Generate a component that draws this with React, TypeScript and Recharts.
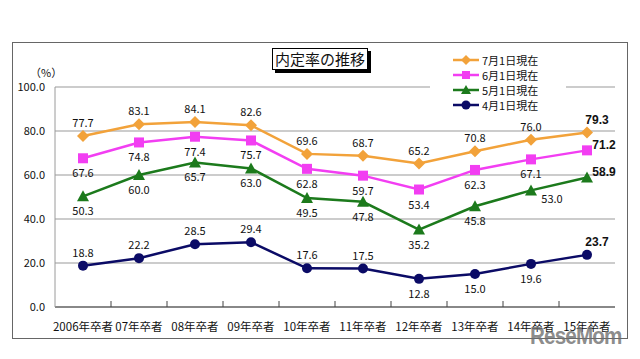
import { LineChart, Line, XAxis, YAxis, CartesianGrid, LabelList } from 'recharts';

const categories = ['2006年卒者', '07年卒者', '08年卒者', '09年卒者', '10年卒者', '11年卒者', '12年卒者', '13年卒者', '14年卒者', '15年卒者'];
const july = [77.7, 83.1, 84.1, 82.6, 69.6, 68.7, 65.2, 70.8, 76.0, 79.3];
const june = [67.6, 74.8, 77.4, 75.7, 62.8, 59.7, 53.4, 62.3, 67.1, 71.2];
const may = [50.3, 60.0, 65.7, 63.0, 49.5, 47.8, 35.2, 45.8, 53.0, 58.9];
const april = [18.8, 22.2, 28.5, 29.4, 17.6, 17.5, 12.8, 15.0, 19.6, 23.7];
const yTicks = [0, 20, 40, 60, 80, 100];

// where each value label sits relative to its point
const julyPlace = ['top', 'top', 'top', 'top', 'top', 'top', 'top', 'top', 'top', 'topRight'];
const junePlace = ['bottom', 'bottom', 'bottom', 'bottom', 'bottom', 'bottom', 'bottom', 'bottom', 'bottom', 'right'];
const mayPlace = ['bottom', 'bottom', 'bottom', 'bottom', 'bottom', 'bottom', 'bottom', 'bottom', 'bottomRight', 'right'];
const aprilPlace = ['top', 'top', 'top', 'top', 'top', 'top', 'bottom', 'bottom', 'bottom', 'topRight'];

const FONT = '"Noto Sans CJK JP", "Noto Sans", sans-serif';

const C_JUL = '#F2A23A';
const C_JUN = '#F23EF2';
const C_MAY = '#1C7A1C';
const C_APR = '#0B0B66';

const data = categories.map((c, i) => ({
  name: c,
  jul: july[i],
  jun: june[i],
  may: may[i],
  apr: april[i],
}));

const OFFSETS: Record<string, [number, number]> = {
  top: [0, -9],
  bottom: [0, 19],
  topRight: [10, -9],
  right: [17, -1],
  bottomRight: [21, 13],
};

function makeLabel(places: string[]) {
  return (props: any) => {
    const { x, y, value, index } = props;
    const p = places[index] || 'top';
    const [dx, dy] = OFFSETS[p];
    const last = index === places.length - 1;
    return (
      <text
        x={x + dx}
        y={y + dy}
        textAnchor="middle"
        fontSize={last ? 12 : 11}
        fontWeight={last ? 700 : 400}
        fontFamily={last ? '"Liberation Sans", sans-serif' : FONT}
        fill="#111"
      >
        {Number(value).toFixed(1)}
      </text>
    );
  };
}

const Diamond = (color: string) => (props: any) => {
  const { cx, cy } = props;
  if (cx == null || cy == null) return null;
  const r = 6;
  return <polygon points={`${cx},${cy - r} ${cx + r},${cy} ${cx},${cy + r} ${cx - r},${cy}`} fill={color} />;
};
const Square = (color: string) => (props: any) => {
  const { cx, cy } = props;
  if (cx == null || cy == null) return null;
  return <rect x={cx - 5} y={cy - 5} width={10} height={10} fill={color} />;
};
const Triangle = (color: string) => (props: any) => {
  const { cx, cy } = props;
  if (cx == null || cy == null) return null;
  return <polygon points={`${cx},${cy - 6} ${cx + 6},${cy + 5} ${cx - 6},${cy + 5}`} fill={color} />;
};
const Circle = (color: string) => (props: any) => {
  const { cx, cy } = props;
  if (cx == null || cy == null) return null;
  return <circle cx={cx} cy={cy} r={5} fill={color} />;
};

const TICK_MARGIN = 10;

function CategoryTick(props: any) {
  const { x, y, payload, index, width, visibleTicksCount } = props;
  const n = visibleTicksCount || categories.length;
  const bw = (width || 560) / n;
  const axisY = y - 6 - TICK_MARGIN;
  return (
    <g>
      {index < n - 1 && (
        <line x1={x + bw / 2} x2={x + bw / 2} y1={axisY} y2={axisY - 6} stroke="#444" />
      )}
      <text x={x} y={y} dy="0.71em" textAnchor="middle" fontSize={11.5} fontFamily={FONT} fill="#111">
        {payload.value}
      </text>
    </g>
  );
}

const legendItems = [
  { label: '7月1日現在', color: C_JUL, shape: 'diamond' },
  { label: '6月1日現在', color: C_JUN, shape: 'square' },
  { label: '5月1日現在', color: C_MAY, shape: 'triangle' },
  { label: '4月1日現在', color: C_APR, shape: 'circle' },
];

function LegendMarker({ color, shape }: { color: string; shape: string }) {
  return (
    <svg width={26} height={12} style={{ display: 'block' }}>
      <line x1={0} y1={6} x2={26} y2={6} stroke={color} strokeWidth={2.5} />
      {shape === 'diamond' && <polygon points="13,1 18,6 13,11 8,6" fill={color} />}
      {shape === 'square' && <rect x={9} y={2} width={8} height={8} fill={color} />}
      {shape === 'triangle' && <polygon points="13,1 18,10 8,10" fill={color} />}
      {shape === 'circle' && <circle cx={13} cy={6} r={4.5} fill={color} />}
    </svg>
  );
}

export default function App() {
  return (
    <div style={{ position: 'absolute', left: 0, top: 0, width: 640, height: 359, background: '#fff', fontFamily: FONT }}>
      <div
        style={{
          position: 'absolute',
          left: 12,
          top: 42,
          width: 614,
          height: 295,
          border: '1px solid #666',
        }}
      />
      <div style={{ position: 'absolute', left: 0, top: 0 }}>
        <LineChart width={640} height={359} data={data} margin={{ top: 87, right: 25, bottom: 22, left: 10 }}>
          <CartesianGrid vertical={false} stroke="#9a9a9a" strokeWidth={1.2} />
          <XAxis
            dataKey="name"
            height={30}
            padding={{ left: 28, right: 28 }}
            axisLine={{ stroke: '#444' }}
            tickLine={false}
            tickMargin={TICK_MARGIN}
            interval={0}
            tick={<CategoryTick />}
          />
          <YAxis
            domain={[0, 100]}
            ticks={yTicks}
            width={45}
            axisLine={{ stroke: '#9a9a9a' }}
            tickLine={false}
            tickMargin={4}
            tickFormatter={(v: number) => v.toFixed(1)}
            tick={{ fontSize: 11, fill: '#111', fontFamily: FONT }}
          />
          <YAxis yAxisId="r" orientation="right" width={0} domain={[0, 100]} tick={false} tickLine={false} axisLine={{ stroke: '#444' }} />
          <Line dataKey="apr" stroke={C_APR} strokeWidth={2.5} dot={Circle(C_APR)} isAnimationActive={false}>
            <LabelList dataKey="apr" content={makeLabel(aprilPlace)} />
          </Line>
          <Line dataKey="may" stroke={C_MAY} strokeWidth={2.5} dot={Triangle(C_MAY)} isAnimationActive={false}>
            <LabelList dataKey="may" content={makeLabel(mayPlace)} />
          </Line>
          <Line dataKey="jun" stroke={C_JUN} strokeWidth={2.5} dot={Square(C_JUN)} isAnimationActive={false}>
            <LabelList dataKey="jun" content={makeLabel(junePlace)} />
          </Line>
          <Line dataKey="jul" stroke={C_JUL} strokeWidth={2.5} dot={Diamond(C_JUL)} isAnimationActive={false}>
            <LabelList dataKey="jul" content={makeLabel(julyPlace)} />
          </Line>
        </LineChart>
      </div>
      <div style={{ position: 'absolute', left: 30, top: 64, fontSize: 11, color: '#111' }}>（%）</div>
      <div
        style={{
          position: 'absolute',
          left: 272,
          top: 48,
          width: 94,
          height: 20,
          border: '1px solid #000',
          background: '#fff',
          boxShadow: '3px 3px 0 #000',
          fontSize: 15,
          lineHeight: '20px',
          textAlign: 'center',
          color: '#111',
        }}
      >
        内定率の推移
      </div>
      <div style={{ position: 'absolute', left: 430, top: 50, width: 136, height: 62, background: '#fff' }}>
        {legendItems.map((it, i) => (
          <div key={i} style={{ position: 'absolute', left: 23, top: 3 + i * 15, display: 'flex', alignItems: 'center', height: 14 }}>
            <LegendMarker color={it.color} shape={it.shape} />
            <span style={{ fontSize: 11, marginLeft: 3, color: '#111', lineHeight: '14px' }}>{it.label}</span>
          </div>
        ))}
      </div>
      <div
        style={{
          position: 'absolute',
          left: 530,
          top: 322,
          fontSize: 24,
          fontWeight: 700,
          fontFamily: '"Liberation Sans", sans-serif',
          color: 'rgba(110,110,110,0.8)',
          letterSpacing: -1,
          lineHeight: '28px',
          transform: 'scaleX(0.86)',
          transformOrigin: 'left top',
          whiteSpace: 'nowrap',
        }}
      >
        ReseMom
      </div>
    </div>
  );
}
